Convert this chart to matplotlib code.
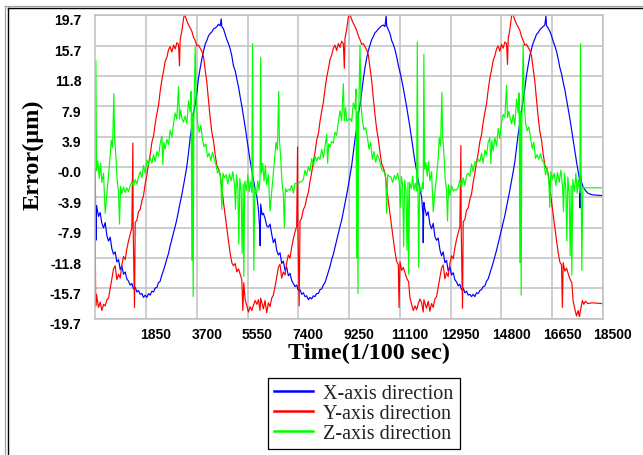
import matplotlib
matplotlib.use('Agg')
import matplotlib.pyplot as plt
import matplotlib.transforms as mtransforms
from matplotlib.lines import Line2D

# ---- data: (time in 1/100 s, error in um) ----
x_dir_c1 = [(0, 0.0), (25, -9.5), (50, -5.0), (121, -6.4), (180, -5.9), (243, -7.3), (304, -7.9), (364, -7.2),
            (425, -8.9), (486, -9.6), (546, -9.1), (607, -10.6), (668, -11.3), (728, -11.0), (789, -12.3),
            (850, -12.0), (911, -13.3), (971, -12.8), (1032, -13.9), (1093, -13.6), (1153, -14.5), (1214, -14.8),
            (1275, -15.3), (1335, -15.1), (1396, -15.8), (1457, -15.6), (1518, -16.2), (1578, -16.0), (1639, -16.5),
            (1700, -16.4), (1760, -16.9), (1821, -16.6), (1882, -16.9), (1942, -16.4), (2003, -16.6), (2064, -16.1),
            (2125, -16.2), (2185, -15.7), (2246, -15.6), (2307, -15.0), (2367, -14.8), (2428, -14.0), (2489, -13.4),
            (2549, -12.7), (2610, -11.9), (2671, -11.2), (2731, -10.2), (2792, -9.4), (2853, -8.5), (2914, -7.7),
            (2974, -6.8), (3035, -5.7), (3096, -4.6), (3156, -3.6), (3217, -2.4), (3278, -1.2), (3339, 0.1),
            (3399, 1.8), (3460, 3.8), (3521, 5.3), (3581, 6.9), (3642, 8.1), (3703, 9.6), (3763, 11.5),
            (3824, 12.8), (3885, 14.0), (3946, 15.0), (4006, 15.9), (4067, 16.4), (4128, 17.0), (4188, 17.3),
            (4249, 17.5), (4310, 17.9), (4370, 18.0), (4431, 18.2), (4492, 18.5), (4553, 18.3), (4590, 19.2),
            (4613, 18.2), (4674, 17.9), (4735, 17.2), (4795, 16.5), (4856, 16.0), (4917, 15.3), (4977, 14.4),
            (5038, 13.1), (5099, 12.5), (5160, 11.4), (5220, 10.4), (5281, 9.1), (5342, 7.9), (5402, 6.6),
            (5463, 5.2), (5524, 3.7), (5584, 2.2), (5645, 0.8), (5706, -0.4), (5767, -1.7), (5827, -2.9),
            (5888, -3.8), (5949, -5.6), (5990, -7.9)]
x_dir_c2 = [(6010, -10.2), (6030, -4.8), (6080, -6.2), (6126, -6.0), (6185, -6.6), (6248, -7.6), (6309, -7.8),
            (6369, -7.4), (6430, -8.7), (6491, -9.8), (6551, -9.3), (6612, -10.8), (6673, -11.4), (6733, -11.1),
            (6794, -12.5), (6855, -12.2), (6916, -13.4), (6976, -13.0), (7037, -14.1), (7098, -13.8), (7158, -14.7),
            (7219, -15.1), (7280, -15.5), (7340, -15.3), (7401, -16.0), (7462, -15.9), (7523, -16.5), (7583, -16.3),
            (7644, -16.8), (7705, -16.7), (7765, -17.2), (7826, -16.9), (7887, -17.1), (7947, -16.7), (8008, -16.8),
            (8069, -16.4), (8130, -16.4), (8190, -15.9), (8251, -15.8), (8312, -15.3), (8372, -15.0), (8433, -14.3),
            (8494, -13.6), (8554, -12.9), (8615, -12.0), (8676, -11.3), (8736, -10.4), (8797, -9.5), (8858, -8.6),
            (8919, -7.7), (8979, -6.9), (9040, -5.8), (9101, -4.7), (9161, -3.6), (9222, -2.4), (9283, -1.1),
            (9344, 0.2), (9404, 1.9), (9465, 3.6), (9526, 5.1), (9586, 6.8), (9647, 8.0), (9708, 9.7),
            (9768, 11.4), (9829, 12.9), (9890, 14.1), (9951, 15.1), (10011, 15.8), (10072, 16.5), (10133, 16.9),
            (10193, 17.4), (10254, 17.6), (10315, 17.9), (10375, 18.1), (10436, 18.3), (10497, 18.4), (10558, 18.2),
            (10600, 19.6), (10618, 18.3), (10679, 17.8), (10740, 17.3), (10800, 16.4), (10861, 15.9), (10922, 15.2),
            (10982, 14.3), (11043, 13.2), (11104, 12.3), (11165, 11.3), (11225, 10.2), (11286, 9.0), (11347, 7.8),
            (11407, 6.5), (11468, 5.1), (11529, 3.6), (11589, 2.1), (11650, 0.7), (11711, -0.5), (11772, -1.8),
            (11832, -2.9), (11893, -3.9), (11935, -6.0)]
x_dir_c3 = [(11950, -9.8), (11975, -4.6), (12000, -5.2), (12071, -6.3), (12130, -5.8), (12193, -7.4), (12254, -8.0),
            (12314, -7.3), (12375, -9.0), (12436, -9.5), (12496, -9.2), (12557, -10.7), (12618, -11.5), (12678, -11.0),
            (12739, -12.4), (12800, -12.1), (12861, -13.5), (12921, -12.9), (12982, -14.0), (13043, -13.7),
            (13103, -14.6), (13164, -14.9), (13225, -15.4), (13285, -15.2), (13346, -15.9), (13407, -15.7),
            (13468, -16.3), (13528, -16.1), (13589, -16.6), (13650, -16.5), (13710, -16.8), (13771, -16.5),
            (13832, -16.8), (13892, -16.3), (13953, -16.4), (14014, -16.0), (14075, -15.9), (14135, -15.5),
            (14196, -15.4), (14257, -14.8), (14317, -14.5), (14378, -13.8), (14439, -13.1), (14499, -12.4),
            (14560, -11.6), (14621, -10.8), (14681, -9.9), (14742, -9.0), (14803, -8.1), (14864, -7.2), (14924, -6.3),
            (14985, -5.2), (15046, -4.1), (15106, -3.0), (15167, -1.8), (15228, -0.6), (15289, 0.7), (15349, 2.5),
            (15410, 4.3), (15471, 5.8), (15531, 7.4), (15592, 8.6), (15653, 10.2), (15713, 11.9), (15774, 13.2),
            (15835, 14.4), (15896, 15.3), (15956, 16.1), (16017, 16.6), (16078, 17.2), (16138, 17.4), (16199, 17.8),
            (16260, 18.0), (16320, 18.2), (16381, 18.4), (16420, 19.6), (16442, 18.3), (16503, 18.0), (16563, 17.6),
            (16624, 17.0), (16685, 16.3), (16745, 15.7), (16806, 15.0), (16867, 14.0), (16927, 12.9), (16988, 12.1),
            (17049, 11.0), (17110, 10.0), (17170, 8.8), (17231, 7.5), (17292, 6.3), (17352, 4.9), (17413, 3.5),
            (17474, 2.0), (17534, 0.7), (17595, -0.6), (17640, -1.5), (17660, -5.3), (17680, -0.9), (17720, -2.0),
            (17780, -2.6), (17850, -3.0), (17950, -3.4), (18100, -3.6), (18450, -3.7)]

y_dir_c1 = [(0, -9.3), (20, -18.0), (45, -16.5), (121, -18.2), (182, -17.5), (243, -18.6), (304, -17.8), (364, -18.0),
            (425, -17.2), (486, -17.0), (546, -15.8), (607, -14.5), (668, -13.2), (728, -12.8), (789, -14.6),
            (850, -13.9), (911, -14.4), (971, -12.7), (1032, -11.6), (1093, -12.0), (1153, -10.6), (1214, -9.6),
            (1275, -8.7), (1335, -7.9), (1372, 3.1), (1384, -8.0), (1432, -18.2), (1457, -7.2), (1518, -6.9),
            (1578, -5.8), (1639, -5.5), (1700, -4.4), (1760, -3.7), (1821, -2.2), (1882, -1.0), (1942, 0.4),
            (2003, 1.6), (2064, 3.2), (2125, 4.0), (2185, 5.6), (2246, 6.9), (2307, 8.0), (2367, 9.8), (2428, 11.3),
            (2489, 12.4), (2549, 13.7), (2610, 14.2), (2671, 15.2), (2731, 15.6), (2792, 14.9), (2853, 15.8),
            (2914, 15.3), (2974, 16.1), (3035, 15.9), (3071, 13.1), (3096, 16.5), (3156, 17.6), (3217, 19.2),
            (3254, 19.9), (3302, 19.3), (3375, 18.6), (3460, 18.0), (3521, 17.6), (3581, 16.8), (3642, 16.4),
            (3703, 15.7), (3763, 15.8), (3824, 15.4), (3885, 15.0), (3946, 14.3), (4006, 12.6), (4067, 11.0),
            (4128, 8.6), (4188, 6.4), (4249, 4.5), (4310, 3.4), (4370, 1.6), (4431, 0.2), (4492, -0.3), (4553, -1.0),
            (4613, -2.8), (4674, -4.6), (4735, -6.3), (4795, -7.9), (4856, -9.6), (4917, -11.2), (4977, -12.4),
            (5038, -12.8), (5099, -12.5), (5160, -13.6), (5220, -13.2), (5281, -13.9), (5342, -14.6), (5378, -18.6),
            (5414, -15.0), (5463, -17.2), (5524, -18.0), (5584, -18.8), (5645, -18.1), (5706, -18.6), (5767, -17.9),
            (5827, -17.3), (5888, -17.8), (5949, -17.2)]
y_dir_c2 = [(6005, -18.6), (6030, -17.0), (6126, -18.4), (6187, -17.3), (6248, -18.9), (6309, -17.6), (6369, -18.1),
            (6430, -17.0), (6491, -16.6), (6551, -15.5), (6612, -14.3), (6673, -13.0), (6733, -12.6), (6794, -14.4),
            (6855, -13.6), (6916, -14.0), (6976, -12.4), (7037, -11.4), (7098, -11.8), (7158, -10.4), (7219, -9.3),
            (7280, -8.4), (7340, -7.7), (7372, 2.6), (7386, -7.9), (7430, -18.0), (7462, -7.0), (7523, -6.6),
            (7583, -5.5), (7644, -5.1), (7705, -4.0), (7765, -3.3), (7826, -1.9), (7887, -0.7), (7947, 0.7),
            (8008, 1.9), (8069, 3.5), (8130, 4.3), (8190, 5.9), (8251, 7.2), (8312, 8.4), (8372, 10.1), (8433, 11.6),
            (8494, 12.7), (8554, 13.9), (8615, 14.5), (8676, 15.4), (8736, 15.8), (8797, 15.1), (8858, 16.0),
            (8919, 15.5), (8979, 16.3), (9040, 16.0), (9076, 12.8), (9101, 16.7), (9161, 17.8), (9222, 19.4),
            (9259, 19.9), (9307, 19.5), (9380, 18.8), (9465, 18.2), (9526, 17.7), (9586, 17.0), (9647, 16.5),
            (9708, 15.9), (9768, 16.0), (9829, 15.6), (9890, 15.2), (9951, 14.5), (10011, 12.9), (10072, 11.2),
            (10133, 8.9), (10193, 6.8), (10254, 4.9), (10315, 3.6), (10375, 1.9), (10436, 0.4), (10497, -0.1),
            (10558, -0.8), (10618, -2.6), (10679, -4.4), (10740, -6.1), (10800, -7.7), (10861, -9.4), (10922, -11.0),
            (10982, -12.2), (11043, -12.7), (11070, -18.2), (11104, -12.3), (11165, -13.4), (11225, -13.0),
            (11286, -13.7), (11347, -14.4), (11419, -14.9), (11468, -17.0), (11529, -17.8), (11589, -18.6),
            (11650, -18.0), (11711, -18.5), (11772, -17.7), (11832, -17.1), (11893, -17.6), (11950, -18.8)]
y_dir_c3 = [(11975, -17.2), (12071, -18.3), (12132, -17.4), (12193, -18.7), (12254, -17.7), (12314, -18.2),
            (12375, -17.1), (12436, -16.8), (12496, -15.6), (12557, -14.4), (12618, -13.1), (12678, -12.7),
            (12739, -14.5), (12800, -13.7), (12861, -14.2), (12921, -12.5), (12982, -11.5), (13043, -11.9),
            (13103, -10.5), (13164, -9.4), (13225, -8.5), (13285, -7.8), (13322, 2.8), (13334, -7.9), (13382, -18.3),
            (13407, -7.1), (13468, -6.8), (13528, -5.6), (13589, -5.3), (13650, -4.2), (13710, -3.5), (13771, -2.0),
            (13832, -0.8), (13892, 0.6), (13953, 1.8), (14014, 3.3), (14075, 4.2), (14135, 5.8), (14196, 7.1),
            (14257, 8.2), (14317, 10.0), (14378, 11.5), (14439, 12.6), (14499, 13.8), (14560, 14.4), (14621, 15.3),
            (14681, 15.7), (14742, 15.0), (14803, 15.9), (14864, 15.4), (14924, 16.2), (14985, 16.0), (15021, 13.3),
            (15046, 16.6), (15106, 17.8), (15167, 19.5), (15204, 20.2), (15252, 19.4), (15325, 18.7), (15410, 18.1),
            (15471, 17.7), (15531, 16.9), (15592, 16.4), (15653, 15.8), (15713, 15.9), (15774, 15.5), (15835, 15.1),
            (15896, 14.4), (15956, 12.7), (16017, 11.1), (16078, 8.7), (16138, 6.5), (16199, 4.6), (16260, 3.5),
            (16320, 1.7), (16381, 0.3), (16442, -0.2), (16503, -0.9), (16563, -2.7), (16624, -4.5), (16685, -6.2),
            (16745, -7.8), (16806, -9.5), (16867, -11.1), (16927, -12.3), (16988, -12.7), (17020, -18.2),
            (17049, -12.4), (17110, -13.5), (17170, -13.1), (17231, -13.8), (17292, -14.5), (17364, -15.0),
            (17413, -17.4), (17474, -18.4), (17534, -19.3), (17595, -18.6), (17640, -19.4), (17700, -18.2),
            (17750, -17.3), (17800, -17.8), (17860, -17.4), (17950, -17.7), (18100, -17.6), (18450, -17.7)]

z_dir_c1 = [(0, 0.0), (24, 13.8), (49, -0.5), (97, 0.8), (146, -1.5), (194, 0.5), (243, -2.0), (304, -0.8),
            (364, -6.0), (425, -3.5), (486, -1.0), (546, 1.5), (583, 3.5), (631, 2.5), (680, 9.5), (704, 4.0),
            (753, 1.5), (801, -1.8), (850, -3.2), (886, -7.4), (923, -2.5), (971, -3.5), (1032, -2.6), (1093, -3.3),
            (1153, -2.7), (1214, -3.2), (1275, -2.4), (1335, -1.9), (1396, -2.5), (1457, -1.6), (1518, -2.2),
            (1578, -1.3), (1639, -0.6), (1700, -1.4), (1760, 0.2), (1821, -0.8), (1882, 0.9), (1942, 0.3),
            (2003, 1.2), (2064, 0.5), (2125, 1.6), (2185, 0.7), (2246, 2.0), (2307, 1.4), (2367, 3.0), (2428, 4.0),
            (2464, 0.3), (2501, 3.2), (2549, 2.3), (2610, 3.6), (2671, 2.9), (2731, 4.8), (2792, 3.9), (2853, 5.6),
            (2914, 7.0), (2974, 6.2), (3035, 10.4), (3071, 6.2), (3120, 7.4), (3156, 6.3), (3217, 5.8), (3278, 6.6),
            (3339, 5.6), (3399, 8.6), (3460, 7.2), (3496, 9.8), (3521, -12.1), (3545, 7.0), (3569, -16.8),
            (3593, 6.0), (3642, 15.6), (3679, 8.5), (3727, 5.9), (3788, 4.5), (3848, 5.4), (3909, 3.6), (3970, 2.6),
            (4031, 3.0), (4091, 1.3), (4152, 1.8), (4213, 0.8), (4273, 1.9), (4334, 1.0), (4395, 0.4), (4455, -0.8),
            (4516, -0.3), (4577, -1.6), (4613, -5.5), (4650, -0.8), (4710, -1.4), (4771, -1.0), (4832, -2.2),
            (4892, -0.9), (4953, -1.8), (5014, -0.6), (5075, -2.3), (5111, -5.5), (5148, -1.0), (5196, -2.6),
            (5232, -10.0), (5269, -1.5), (5318, -3.2), (5354, -11.2), (5390, -2.2), (5414, -14.2), (5451, -1.8),
            (5512, -3.0), (5560, -1.0), (5609, -3.2), (5657, -1.9), (5706, -3.3), (5730, 16.0), (5754, -2.0),
            (5779, -13.4), (5815, -2.6), (5876, -3.5), (5924, -1.8), (5973, -3.0)]
z_dir_c2 = [(6005, -1.5), (6029, 14.2), (6054, -0.8), (6102, 0.5), (6151, -1.8), (6199, 0.2), (6248, -2.3),
            (6309, -1.0), (6369, -5.7), (6430, -3.2), (6491, -0.7), (6551, 1.8), (6588, 3.2), (6636, 2.2),
            (6685, 9.8), (6709, 3.7), (6758, 1.2), (6806, -2.0), (6855, -3.5), (6891, -7.8), (6928, -2.8),
            (6976, -3.2), (7037, -2.9), (7098, -3.0), (7158, -2.4), (7219, -3.4), (7280, -2.1), (7340, -2.2),
            (7401, -2.2), (7462, -1.9), (7523, -1.9), (7583, -1.6), (7644, -0.4), (7705, -1.1), (7765, 0.0),
            (7826, -0.5), (7887, 1.1), (7947, 0.1), (8008, 1.4), (8069, 0.8), (8130, 1.3), (8190, 1.0), (8251, 2.3),
            (8312, 1.2), (8372, 2.7), (8433, 4.2), (8469, 0.5), (8506, 3.0), (8554, 2.6), (8615, 3.3), (8676, 3.1),
            (8736, 4.5), (8797, 4.1), (8858, 5.9), (8919, 7.3), (8979, 6.0), (9040, 10.8), (9076, 6.0), (9125, 7.7),
            (9161, 6.0), (9222, 6.1), (9283, 6.3), (9344, 5.9), (9404, 8.3), (9465, 7.5), (9501, 10.1),
            (9526, -11.8), (9550, 7.2), (9574, -16.4), (9598, 6.3), (9647, 15.8), (9684, 8.2), (9732, 6.1),
            (9793, 4.8), (9853, 5.1), (9914, 3.9), (9975, 2.3), (10036, 3.2), (10096, 1.0), (10157, 2.0), (10218, 0.6),
            (10278, 1.6), (10339, 1.2), (10400, 0.2), (10460, -0.5), (10521, -0.6), (10582, -1.3), (10618, -6.0),
            (10655, -1.0), (10715, -1.2), (10776, -1.3), (10837, -2.0), (10897, -1.1), (10958, -1.6), (11019, -0.8),
            (11080, -2.0), (11116, -5.2), (11153, -1.2), (11201, -2.4), (11237, -10.3), (11274, -1.7), (11323, -3.0),
            (11359, -10.8), (11395, -2.0), (11419, -13.9), (11456, -2.0), (11517, -2.8), (11565, -1.2), (11614, -3.0),
            (11662, -2.1), (11711, -3.1), (11735, 16.2), (11759, -2.2), (11784, -13.0), (11820, -2.4), (11881, -3.3),
            (11929, -2.0)]
z_dir_c3 = [(11950, -2.8), (11974, 14.6), (11999, -0.3), (12047, 0.6), (12096, -1.2), (12144, 0.7), (12193, -1.8),
            (12254, -0.6), (12314, -5.8), (12375, -3.3), (12436, -1.2), (12496, 1.2), (12533, 3.8), (12581, 2.7),
            (12630, 9.7), (12654, 4.2), (12703, 1.7), (12751, -1.5), (12800, -3.0), (12836, -7.0), (12873, -2.3),
            (12921, -3.7), (12982, -2.4), (13043, -3.1), (13103, -2.9), (13164, -3.0), (13225, -2.6), (13285, -1.7),
            (13346, -2.7), (13407, -1.4), (13468, -2.4), (13528, -1.1), (13589, -0.8), (13650, -1.2), (13710, 0.4),
            (13771, -0.6), (13832, 0.7), (13892, 0.5), (13953, 1.0), (14014, 0.7), (14075, 1.8), (14135, 0.5),
            (14196, 2.2), (14257, 1.6), (14317, 3.2), (14378, 3.8), (14414, 0.4), (14451, 3.4), (14499, 2.1),
            (14560, 3.8), (14621, 2.7), (14681, 5.0), (14742, 3.7), (14803, 5.8), (14864, 6.8), (14924, 6.4),
            (14985, 10.6), (15021, 6.4), (15070, 7.2), (15106, 6.5), (15167, 5.6), (15228, 6.8), (15289, 5.4),
            (15349, 8.8), (15410, 7.0), (15446, 9.6), (15471, -12.4), (15495, 7.2), (15519, -16.6), (15543, 5.8),
            (15592, 15.9), (15629, 8.3), (15677, 5.7), (15738, 4.7), (15798, 5.2), (15859, 3.8), (15920, 2.4),
            (15981, 3.2), (16041, 1.1), (16102, 1.6), (16163, 1.0), (16223, 1.7), (16284, 0.8), (16345, 0.6),
            (16405, -1.0), (16466, -0.1), (16527, -1.8), (16563, -5.2), (16600, -0.6), (16660, -1.6), (16721, -0.8),
            (16782, -2.4), (16842, -0.7), (16903, -2.0), (16964, -0.4), (17025, -2.5), (17061, -5.8), (17098, -0.8),
            (17146, -2.8), (17182, -9.6), (17219, -1.3), (17268, -3.4), (17304, -11.5), (17340, -2.4),
            (17364, -14.0), (17401, -1.6), (17462, -3.2), (17510, -0.8), (17559, -3.4), (17607, -1.7), (17656, -3.3),
            (17680, 16.0), (17704, -2.0), (17729, -13.4), (17765, -2.6), (17800, -2.7), (18450, -2.7)]

series_names = ['X-axis direction', 'Y-axis direction', 'Z-axis direction']
series_colors = ['#0000ff', '#ff0000', '#00ff00']
x_ticks = [1850, 3700, 5550, 7400, 9250, 11100, 12950, 14800, 16650, 18500]
y_ticks = [19.7, 15.7, 11.8, 7.9, 3.9, -0.0, -3.9, -7.9, -11.8, -15.7, -19.7]
y_tick_labels = ['19.7', '15.7', '11.8', '7.9', '3.9', '-0.0', '-3.9', '-7.9', '-11.8', '-15.7', '-19.7']

W, H = 643, 456
fig = plt.figure(figsize=(W / 100, H / 100), dpi=100)
fig.patch.set_facecolor('white')

# screenshot frame (grey + black)
fig.add_artist(Line2D([5 / W, 5 / W], [0, 1 - 6.5 / H], color='#a0a0a0', lw=0.9, transform=fig.transFigure))
fig.add_artist(Line2D([5 / W, 1], [1 - 6.5 / H, 1 - 6.5 / H], color='#a0a0a0', lw=0.9, transform=fig.transFigure))
fig.add_artist(Line2D([7.5 / W, 7.5 / W], [0, 1 - 9 / H], color='black', lw=1.0, transform=fig.transFigure))
fig.add_artist(Line2D([7.5 / W, 1], [1 - 9 / H, 1 - 9 / H], color='black', lw=1.0, transform=fig.transFigure))

left, right, top, bottom = 95.2, 603, 16, 320
ax = fig.add_axes([left / W, 1 - bottom / H, (right - left) / W, (bottom - top) / H])

handles = []
for pts, name, col in [(x_dir_c1 + x_dir_c2 + x_dir_c3, series_names[0], series_colors[0]),
                       (y_dir_c1 + y_dir_c2 + y_dir_c3, series_names[1], series_colors[1]),
                       (z_dir_c1 + z_dir_c2 + z_dir_c3, series_names[2], series_colors[2])]:
    t = [p[0] for p in pts]
    v = [p[1] for p in pts]
    ln, = ax.plot(t, v, color=col, lw=0.85, label=name)
    handles.append(ln)

ax.set_xlim(0, 18500)
ax.set_ylim(-19.7, 19.7)
ax.set_xticks(x_ticks)
ax.set_xticklabels([str(x) for x in x_ticks])
ax.set_yticks(y_ticks)
ax.set_yticklabels(y_tick_labels)
ax.grid(True, color='#c0c0c0', lw=1.1)
ax.set_axisbelow(True)
for s in ax.spines.values():
    s.set_color('#c0c0c0')
    s.set_linewidth(1.1)
ax.tick_params(length=0)
ax.tick_params(axis='x', pad=6)
ax.tick_params(axis='y', pad=10)
for lab in ax.get_xticklabels() + ax.get_yticklabels():
    lab.set_fontfamily('Liberation Sans')
    lab.set_fontweight('bold')
    lab.set_fontsize(10)
dx = mtransforms.ScaledTranslation(10 / 100, 0, fig.dpi_scale_trans)
for lab in ax.get_xticklabels():
    lab.set_transform(lab.get_transform() + dx)
dy = mtransforms.ScaledTranslation(0, -4 / 100, fig.dpi_scale_trans)
for lab in ax.get_yticklabels():
    lab.set_transform(lab.get_transform() + dy)

fig.text(368.5 / W, 1 - 353 / H, 'Time(1/100 sec)', ha='center', va='center',
         fontfamily='Liberation Serif', fontweight='bold', fontsize=17.5)
fig.text(33 / W, 1 - 155 / H, 'Error(μm)', ha='center', va='center', rotation=90,
         fontfamily='Liberation Serif', fontweight='bold', fontsize=17.5)

leg = fig.legend(handles=handles, labels=series_names, loc='upper left',
                 bbox_to_anchor=(268 / W, 1 - 379 / H), borderaxespad=0,
                 prop={'family': 'Liberation Serif', 'size': 14.5},
                 frameon=True, fancybox=False, framealpha=1, edgecolor='black',
                 borderpad=0.3, labelspacing=0.05, handlelength=1.95, handletextpad=0.5)
leg.get_frame().set_linewidth(0.9)
for lh in leg.get_lines():
    lh.set_linewidth(1.8)
for txt in leg.get_texts():
    txt.set_color('#222222')

fig.savefig('out.png', dpi=100)
